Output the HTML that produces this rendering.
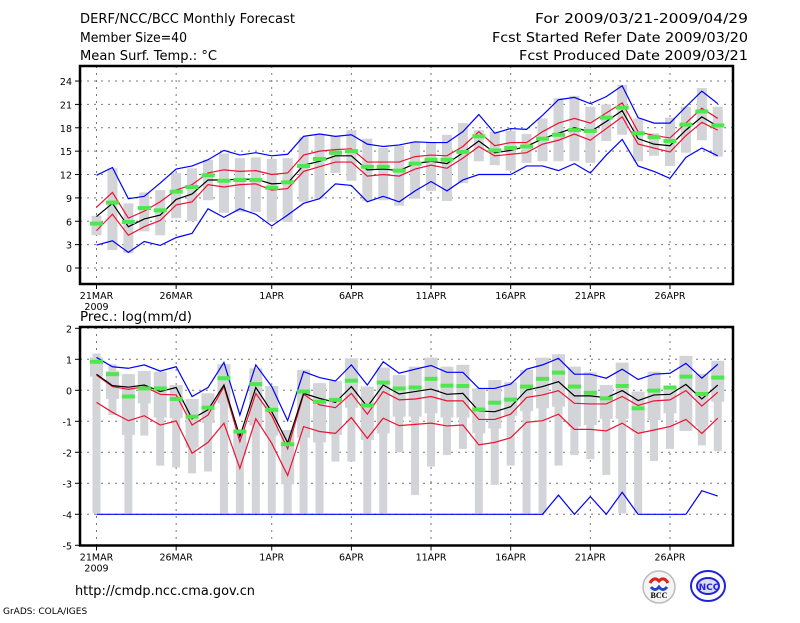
<!DOCTYPE html>
<html><head><meta charset="utf-8"><style>
body{margin:0;background:#fff;}
svg text{font-family:"DejaVu Sans","Liberation Sans",sans-serif;fill:#000;}
</style></head><body>
<svg id="chart" width="800" height="618" viewBox="0 0 800 618" xmlns="http://www.w3.org/2000/svg">
<rect width="800" height="618" fill="#fff"/>
<text x="80" y="23" font-size="13" textLength="215" lengthAdjust="spacingAndGlyphs">DERF/NCC/BCC Monthly Forecast</text>
<text x="80" y="42" font-size="13" textLength="107" lengthAdjust="spacingAndGlyphs">Member Size=40</text>
<text x="80" y="60" font-size="13" textLength="137" lengthAdjust="spacingAndGlyphs">Mean Surf. Temp.: °C</text>
<text x="535" y="23" font-size="13" textLength="213" lengthAdjust="spacingAndGlyphs">For 2009/03/21-2009/04/29</text>
<text x="492" y="42" font-size="13" textLength="256" lengthAdjust="spacingAndGlyphs">Fcst Started Refer Date 2009/03/20</text>
<text x="519" y="60" font-size="13" textLength="229" lengthAdjust="spacingAndGlyphs">Fcst Produced Date 2009/03/21</text>
<text x="80" y="321" font-size="13" textLength="112" lengthAdjust="spacingAndGlyphs">Prec.: log(mm/d)</text>
<text x="75" y="595" font-size="13" textLength="180" lengthAdjust="spacingAndGlyphs">http://cmdp.ncc.cma.gov.cn</text>
<text x="3" y="614" font-size="9">GrADS: COLA/IGES</text>
<g>
<circle cx="659" cy="587" r="16" fill="#f4f4f4" stroke="#bbb" stroke-width="1.5"/>
<path d="M650 583 q4 -7 9 -2 q5 -5 9 2" fill="none" stroke="#d22" stroke-width="3"/>
<path d="M651 587 q4 5 8 0 q4 5 8 0" fill="none" stroke="#24c" stroke-width="3"/>
<text x="659" y="598" font-size="8" text-anchor="middle" font-weight="bold" style="font-family:'Liberation Serif',serif">BCC</text>
</g>
<g>
<ellipse cx="708" cy="586" rx="17" ry="15" fill="none" stroke="#22d" stroke-width="2"/>
<ellipse cx="708" cy="586" rx="11" ry="8" fill="#dde" stroke="#22d" stroke-width="2"/>
<text x="709" y="590" font-size="9" text-anchor="middle" font-weight="bold" style="fill:#22d">NCC</text>
</g>
<g id="top"></g>
<g id="bot"></g>
</svg>
<script>
const dateLabels=["21MAR","26MAR","1APR","6APR","11APR","16APR","21APR","26APR"];
const dateDays=[0,5,11,16,21,26,31,36];
const tTicks=[0,3,6,9,12,15,18,21,24];
const pTicks=[-5,-4,-3,-2,-1,0,1,2];
// Temperature
const tMax=[11.9,12.9,8.9,9.2,10.9,12.7,13.1,13.9,15.1,14.5,14.8,14.4,14.6,16.9,17.2,16.9,17.1,15.9,15.6,15.8,16.2,16.1,16.1,17.5,19.7,17.3,17.9,17.8,19.6,21.6,21.9,21.1,22.0,23.4,19.3,18.6,18.6,20.7,22.7,21.1];
const tMin=[2.95,3.5,2.0,3.4,2.9,3.9,4.45,7.6,6.5,7.6,6.9,5.4,6.8,8.3,8.9,10.8,10.6,8.5,9.2,8.5,9.9,11.1,9.9,11.3,12.0,12.0,12.0,13.1,13.1,12.5,13.4,12.2,14.5,16.5,13.1,12.4,11.5,14.2,15.4,14.4];
const tUp=[7.8,9.7,6.4,7.3,8.5,10.0,10.7,12.2,12.6,12.4,12.5,12.0,12.2,14.5,15.0,15.2,15.3,13.6,13.6,13.6,14.3,14.5,14.4,15.6,17.5,15.7,16.1,16.1,17.5,18.6,19.2,18.6,19.9,21.2,17.5,17.0,16.7,18.6,20.5,19.2];
const tMean=[6.6,8.3,5.3,6.3,6.8,8.8,9.5,11.3,11.3,11.4,11.4,10.8,10.9,13.2,13.7,14.4,14.4,12.6,12.7,12.5,13.4,13.7,13.4,14.8,16.3,14.8,15.1,15.6,16.6,17.3,18.0,17.5,18.8,20.2,16.6,15.9,15.7,17.7,19.4,18.2];
const tLow=[4.8,6.9,4.2,5.3,6.1,8.1,8.5,10.7,10.4,10.7,10.8,10.0,10.2,12.4,13.0,13.6,13.6,11.8,12.0,11.8,12.7,13.2,12.8,14.1,15.6,14.4,14.6,14.8,15.9,16.4,17.2,16.4,17.9,19.4,15.9,15.4,14.9,17.0,18.7,17.7];
const tObs=[5.7,8.4,5.9,7.7,7.4,9.8,10.4,11.9,11.2,11.3,11.3,10.3,11.0,13.1,14.0,14.8,15.0,13.0,13.0,12.5,13.4,13.9,13.9,14.9,16.9,15.1,15.4,15.6,16.6,17.1,17.7,17.6,19.3,20.6,17.3,16.8,16.3,18.4,20.1,18.3];
const tBoxHi=[6.7,12.8,8.3,9.7,10.0,12.2,12.8,13.9,14.7,14.1,14.2,14.0,14.1,16.8,17.1,16.9,17.7,16.6,15.4,15.7,16.2,16.1,17.1,18.6,17.7,17.5,17.6,17.2,19.2,21.8,22.1,20.7,21.0,23.5,19.2,17.3,19.3,20.7,23.1,20.7];
const tBoxLo=[4.2,2.3,1.9,4.7,4.2,6.4,6.0,8.7,7.1,7.2,7.2,5.9,5.9,8.5,8.9,12.2,11.2,8.6,8.7,8.0,8.9,9.9,8.6,10.9,13.7,13.2,12.5,13.5,13.7,13.7,13.7,13.5,16.3,17.1,13.7,14.4,13.1,14.8,16.4,14.3];
// Precipitation
const pMax=[1.06,0.76,0.71,0.82,0.62,0.76,-0.2,0.09,0.9,-0.8,0.82,0.12,-0.98,0.6,0.41,0.3,0.82,0.17,0.92,0.55,0.68,0.8,0.58,0.58,0.06,0.06,0.2,0.68,0.82,1.03,0.52,0.52,0.39,0.68,0.35,0.52,0.55,0.87,0.39,0.84];
const pMin=[-4,-4,-4,-4,-4,-4,-4,-4,-4,-4,-4,-4,-4,-4,-4,-4,-4,-4,-4,-4,-4,-4,-4,-4,-4,-4,-4,-4,-4,-3.38,-4,-3.43,-4,-3.29,-4,-4,-4,-4,-3.24,-3.41];
const pUp=[0.49,0.12,0.03,0.12,-0.13,-0.15,-1.12,-0.8,0.12,-1.66,-0.1,-0.82,-1.89,-0.13,-0.47,-0.56,-0.1,-0.77,-0.04,-0.31,-0.28,-0.2,-0.34,-0.34,-0.94,-0.94,-0.77,-0.23,-0.15,-0.01,-0.42,-0.44,-0.44,-0.2,-0.49,-0.34,-0.31,-0.01,-0.51,-0.06];
const pMean=[0.52,0.15,0.1,0.17,-0.04,0.09,-0.92,-0.63,0.17,-1.49,0.09,-0.69,-1.69,-0.1,-0.26,-0.39,0.12,-0.53,0.17,-0.12,-0.04,0.04,-0.13,-0.1,-0.67,-0.69,-0.53,0.01,0.12,0.28,-0.18,-0.18,-0.24,-0.01,-0.33,-0.15,-0.13,0.19,-0.28,0.17];
const pLow=[-0.39,-0.71,-0.98,-0.82,-1.12,-0.99,-2.03,-1.68,-1.06,-2.52,-0.92,-1.71,-2.75,-1.17,-1.33,-1.39,-0.88,-1.55,-0.9,-1.14,-1.1,-1.06,-1.15,-1.12,-1.76,-1.68,-1.53,-1.03,-0.98,-0.77,-1.26,-1.26,-1.31,-1.06,-1.39,-1.28,-1.17,-0.94,-1.39,-0.9];
const pObs=[0.92,0.52,-0.2,0.06,0.06,-0.28,-0.85,-0.56,0.39,-1.33,0.2,-0.63,-1.74,-0.04,-0.37,-0.31,0.31,-0.49,0.25,0.06,0.09,0.37,0.15,0.14,-0.62,-0.4,-0.3,0.12,0.37,0.57,0.12,-0.08,-0.26,0.14,-0.58,-0.01,0.09,0.44,-0.12,0.41];
const pQ3=[1.06,0.62,0.52,0.62,0.6,0.17,-0.28,-0.1,0.84,-1.39,0.71,0.14,-1.28,0.66,0.23,0.3,1.03,0.12,0.73,0.49,0.76,1.05,0.76,0.82,0.06,0.33,0.26,0.66,1.05,1.16,0.76,0.58,0.17,0.89,-0.04,0.6,0.14,1.11,0.53,0.95];
const pQ1=[0.44,-0.28,-1.44,-0.42,-0.88,-0.9,-1.85,-1.06,-0.42,-2.09,-1.14,-1.46,-3.03,-1.53,-1.68,-1.44,-0.56,-1.6,-1.39,-0.85,-0.85,-0.74,-0.88,-0.88,-1.39,-1.23,-0.82,-0.67,-0.58,-0.53,-1.17,-1.12,-0.92,-0.92,-1.35,-0.96,-0.74,-1.31,-1.17,-0.37];
const pBarHi=[1.19,0.84,0.52,0.62,0.6,0.17,-0.28,-0.1,0.84,-1.39,0.71,0.14,-1.28,0.66,0.23,0.3,1.03,0.12,0.73,0.49,0.76,1.05,0.76,0.82,0.06,0.33,0.26,0.66,1.05,1.16,0.76,0.58,0.17,0.89,-0.04,0.6,0.14,1.11,0.53,0.95];
const pBarLo=[-3.97,-0.8,-3.97,-1.46,-2.43,-2.49,-2.68,-2.62,-3.97,-3.97,-3.97,-3.97,-3.97,-3.97,-3.97,-2.3,-2.3,-3.97,-3.97,-2.0,-3.38,-2.46,-2.09,-1.89,-3.97,-3.05,-2.43,-3.97,-3.97,-2.43,-2.09,-2.22,-2.73,-3.97,-3.97,-2.28,-1.89,-1.31,-1.78,-1.96];

const NS="http://www.w3.org/2000/svg";
const X0=96.5, DX=15.93, LEFT=80, RIGHT=733;
function xs(i){return X0+DX*i;}
function mk(parent,tag,attrs){const e=document.createElementNS(NS,tag);for(const k in attrs)e.setAttribute(k,attrs[k]);parent.appendChild(e);return e;}

function panel(g,top,bottom,ys,ticks){
  ticks.forEach(t=>{const y=ys(t);
    if(y>top+1&&y<bottom-1){const l=mk(g,'line',{x1:LEFT,x2:RIGHT,y1:y,y2:y,stroke:'#777','stroke-dasharray':'2,5','stroke-width':1});
    
    }
    const tk=mk(g,'line',{x1:LEFT-5,x2:LEFT,y1:y,y2:y,stroke:'#000'});
    
    
    const tx=mk(g,'text',{x:LEFT-8,y:y+4,'font-size':9.5,'text-anchor':'end'});tx.textContent=t;
    
    
  });
  dateDays.forEach((d,k)=>{const x=xs(d);
    const l=mk(g,'line',{x1:x,x2:x,y1:top,y2:bottom,stroke:'#777','stroke-dasharray':'2,5','stroke-width':1});
    
    
    const tk=mk(g,'line',{x1:x,x2:x,y1:bottom,y2:bottom+5,stroke:'#000'});
    
    
    const tx=mk(g,'text',{x:x,y:bottom+15,'font-size':9.5,'text-anchor':'middle'});tx.textContent=dateLabels[k];
    
    
  });
  const yr=mk(g,'text',{x:xs(0),y:bottom+26,'font-size':9.5,'text-anchor':'middle'});yr.textContent='2009';
  
  
}
function bars(g,lo,hi,w,ys,name){
  lo.forEach((v,i)=>{const y1=ys(hi[i]),y2=ys(v);
    const r=mk(g,'rect',{x:xs(i)-w/2,y:y1,width:w,height:Math.max(1,y2-y1),fill:'#d3d4d8'});
    
    });
}
function line(g,arr,ys,col,name){
  const p=mk(g,'polyline',{points:arr.map((v,i)=>xs(i)+','+ys(v)).join(' '),fill:'none',stroke:col,'stroke-width':1.2});
  
  
}
function obs(g,arr,ys){
  arr.forEach((v,i)=>{const r=mk(g,'rect',{x:xs(i)-6.5,y:ys(v)-2,width:13,height:4,fill:'#4de84d'});
    
    });
}
function frame(g,top,bottom,name){
  const f=mk(g,'rect',{x:LEFT,y:top,width:RIGHT-LEFT,height:bottom-top,fill:'none',stroke:'#000','stroke-width':2.5});
  
  
}
const gt=document.getElementById('top');


const yT=v=>268-7.79*v;
panel(gt,66,284,yT,tTicks);
bars(gt,tBoxLo,tBoxHi,10,yT,'temp-ensemble-bar');
line(gt,tMax,yT,'#0000ff','temp-max-line');
line(gt,tMin,yT,'#0000ff','temp-min-line');
line(gt,tUp,yT,'#ee1133','temp-upper-line');
line(gt,tLow,yT,'#ee1133','temp-lower-line');
line(gt,tMean,yT,'#000','temp-mean-line');
obs(gt,tObs,yT);
frame(gt,66,284,'temp-plot-frame');
const gb=document.getElementById('bot');


const yP=v=>390.3-31*v;
panel(gb,327,545.5,yP,pTicks);
bars(gb,pBarLo,pBarHi,8,yP,'precip-range-bar');
bars(gb,pQ1,pQ3,13,yP,'precip-box');
line(gb,pMax,yP,'#0000ff','precip-max-line');
line(gb,pMin,yP,'#0000ff','precip-min-line');
line(gb,pUp,yP,'#ee1133','precip-upper-line');
line(gb,pLow,yP,'#ee1133','precip-lower-line');
line(gb,pMean,yP,'#000','precip-mean-line');
obs(gb,pObs,yP);
frame(gb,327,545.5,'precip-plot-frame');
</script>
</body></html>
